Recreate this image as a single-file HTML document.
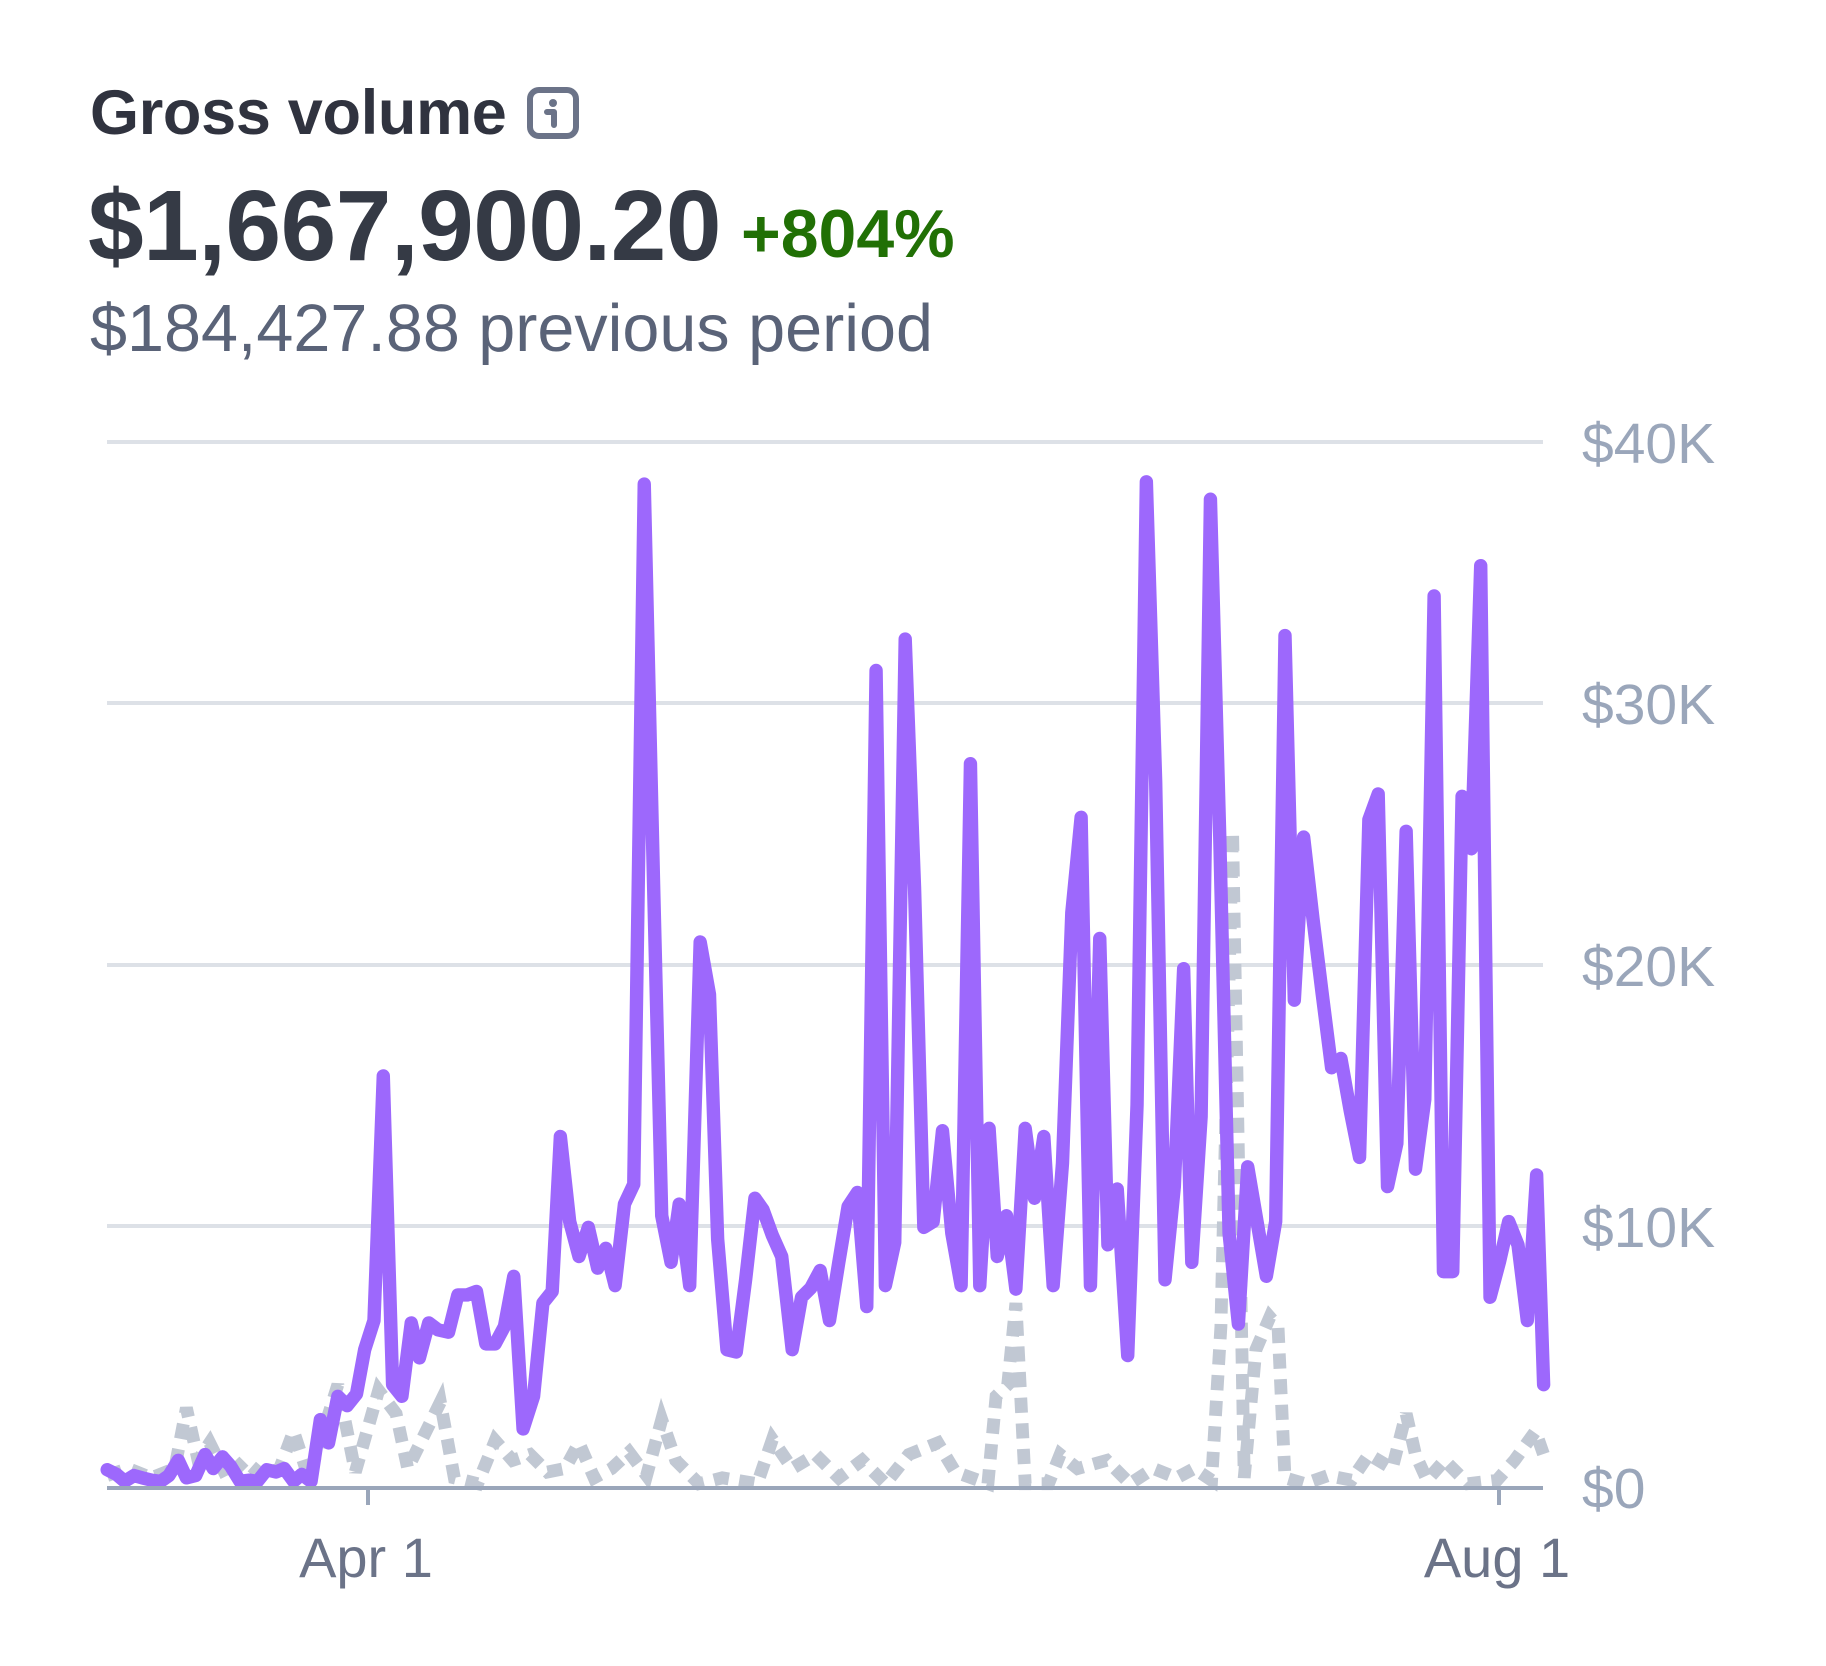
<!DOCTYPE html>
<html><head><meta charset="utf-8"><style>
html,body{margin:0;padding:0;background:#fff;}
body{width:1826px;height:1666px;position:relative;overflow:hidden;font-family:"Liberation Sans",sans-serif;}
.t{position:absolute;white-space:nowrap;line-height:1;}
</style></head><body>
<div class="t" style="left:90px;top:82px;font-size:63px;font-weight:bold;color:#30333f;letter-spacing:-0.3px;">Gross volume</div>
<svg style="position:absolute;left:526px;top:86px" width="56" height="54" viewBox="0 0 56 54">
<rect x="4" y="4" width="46" height="46" rx="9" fill="none" stroke="#6b7388" stroke-width="6"/>
<circle cx="27" cy="17" r="4" fill="#6b7388"/>
<path d="M21 26 H28 V39" fill="none" stroke="#6b7388" stroke-width="6" stroke-linecap="round" stroke-linejoin="round"/>
</svg>
<div class="t" style="left:88px;top:176px;font-size:100px;font-weight:bold;color:#353a45;letter-spacing:-0.5px;">$1,667,900.20</div>
<div class="t" style="left:741px;top:200px;font-size:68px;font-weight:bold;color:#217005;">+804%</div>
<div class="t" style="left:90px;top:296px;font-size:66.5px;color:#5a6378;">$184,427.88 previous period</div>

<svg style="position:absolute;left:0;top:0" width="1826" height="1666">
<g stroke="#dde1e7" stroke-width="4">
<line x1="107" y1="442" x2="1543" y2="442"/>
<line x1="107" y1="703" x2="1543" y2="703"/>
<line x1="107" y1="965" x2="1543" y2="965"/>
<line x1="107" y1="1226" x2="1543" y2="1226"/>
</g>
<g transform="translate(0,-1.7) scale(1.165)">
<polyline fill="none" stroke="#c1c8d3" stroke-width="11" stroke-dasharray="13 9" points="92,1268 110,1262 130,1270 150,1262 160,1210 170,1255 180,1240 195,1270 210,1255 225,1268 240,1262 252,1230 265,1270 290,1190 305,1265 325,1195 340,1215 350,1262 378,1205 390,1270 410,1275 425,1238 440,1255 455,1250 470,1265 485,1262 497,1240 510,1270 525,1262 540,1248 555,1268 568,1220 580,1255 600,1275 620,1270 650,1275 663,1237 680,1262 700,1250 720,1270 740,1255 760,1275 780,1250 805,1240 820,1265 848,1275 855,1200 865,1190 872,1120 880,1275 900,1275 910,1250 925,1262 950,1255 970,1275 990,1262 1010,1270 1025,1262 1040,1272 1048,1140 1058,715 1068,1270 1078,1160 1090,1132 1097,1140 1103,1270 1120,1275 1140,1268 1160,1272 1175,1250 1195,1262 1207,1215 1215,1250 1225,1272 1240,1255 1260,1275 1285,1272 1300,1255 1318,1230 1325,1250"/>
<polyline fill="none" stroke="#9d68fc" stroke-width="11.5" stroke-linejoin="round" stroke-linecap="round" points="92,1263 100,1267 107,1273 115,1268 122,1270 130,1272 138,1273 145,1268 153,1255 160,1270 168,1268 176,1250 183,1262 191,1252 198,1260 206,1273 214,1272 221,1273 229,1263 237,1265 244,1262 252,1273 259,1267 267,1273 275,1220 282,1240 290,1200 298,1208 306,1198 313,1160 321,1135 329,925 337,1190 345,1200 353,1137 360,1167 368,1137 376,1143 385,1145 393,1113 401,1113 409,1110 417,1155 425,1155 433,1140 441,1097 449,1228 458,1200 466,1120 474,1110 481,977 489,1050 497,1080 505,1055 513,1090 520,1073 528,1105 536,1035 544,1018 553,417 561,760 568,1045 576,1085 583,1035 592,1105 601,810 609,855 616,1065 624,1160 632,1162 640,1100 648,1030 655,1040 663,1062 671,1080 680,1160 688,1115 696,1107 704,1092 712,1135 720,1085 728,1037 736,1025 744,1123 752,577 760,1105 768,1068 777,550 785,763 793,1055 801,1050 809,972 817,1060 825,1105 833,657 841,1105 849,970 856,1080 864,1045 872,1108 880,970 888,1030 896,977 904,1105 912,1000 920,785 928,703 936,1105 944,807 951,1070 959,1022 968,1165 976,950 984,415 992,673 1000,1100 1008,1020 1016,833 1023,1085 1031,960 1039,430 1047,720 1055,1060 1063,1138 1071,1003 1079,1050 1087,1097 1095,1050 1103,547 1111,860 1119,720 1127,790 1135,855 1143,918 1151,910 1159,955 1167,995 1175,705 1183,683 1191,1020 1199,983 1207,715 1215,1005 1223,945 1231,513 1239,1093 1247,1093 1255,685 1263,730 1271,487 1279,1115 1287,1085 1295,1050 1303,1070 1311,1135 1319,1010 1325,1190"/>
</g>
<g stroke="#9aa6ba" stroke-width="4">
<line x1="107" y1="1488" x2="1543" y2="1488"/>
<line x1="368" y1="1488" x2="368" y2="1505"/>
<line x1="1499" y1="1488" x2="1499" y2="1505"/>
</g>
<g font-family="Liberation Sans, sans-serif" font-size="57" fill="#9aa6ba">
<text x="1582" y="463">$40K</text>
<text x="1582" y="724">$30K</text>
<text x="1582" y="986">$20K</text>
<text x="1582" y="1247">$10K</text>
<text x="1582" y="1508">$0</text>
</g>
<g font-family="Liberation Sans, sans-serif" font-size="56" fill="#6b7388" text-anchor="middle">
<text x="366" y="1577">Apr 1</text>
<text x="1497" y="1577">Aug 1</text>
</g>
</svg>
</body></html>
